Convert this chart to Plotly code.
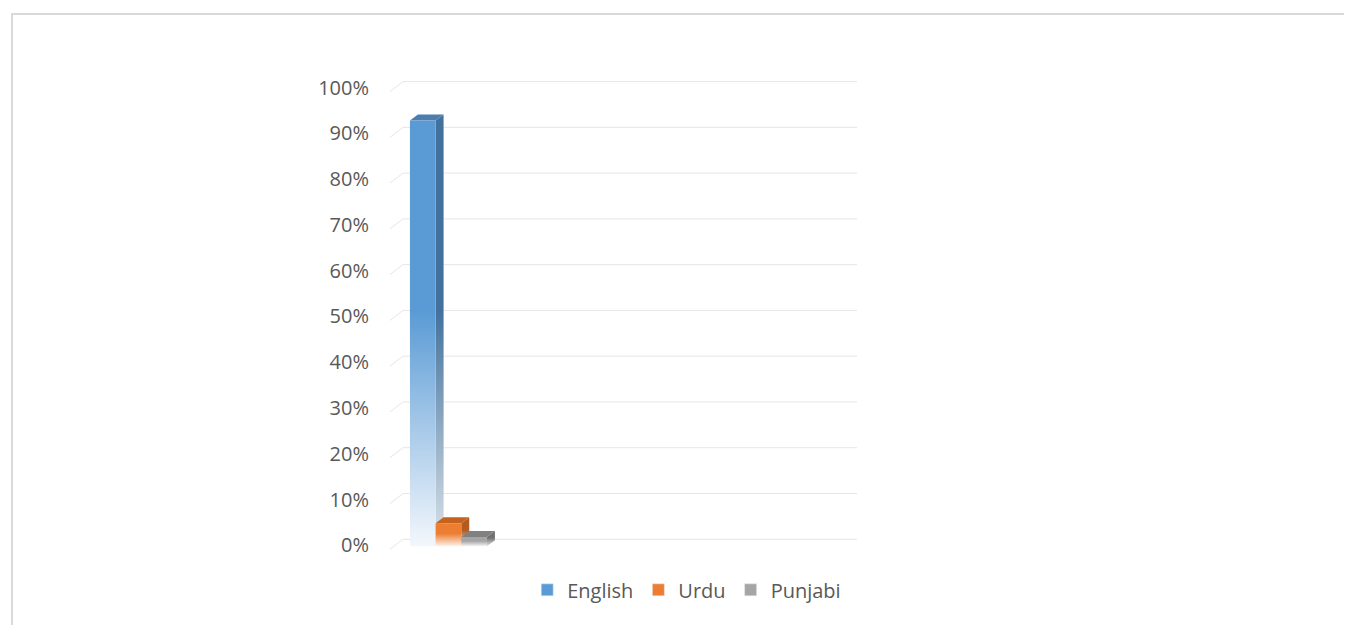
import plotly.graph_objects as go

# data
languages = ["English", "Urdu", "Punjabi"]
shares = [0.93, 0.05, 0.02]
tick_vals = [0, 0.1, 0.2, 0.3, 0.4, 0.5, 0.6, 0.7, 0.8, 0.9, 1.0]
tick_text = ["0%", "10%", "20%", "30%", "40%", "50%", "60%", "70%", "80%", "90%", "100%"]

# colours: front, side, top, faded bottom
front_cols = ["#5B9BD5", "#ED7D31", "#A5A5A5"]
side_cols = ["#41719C", "#B35B20", "#707070"]
top_cols = ["#4C7DAE", "#C4621E", "#808080"]
pale_cols = ["#F3F7FC", "#FDF1E8", "#F4F4F4"]
side_pale = ["#DCE3EA", "#EFE2D8", "#E4E4E4"]

# page geometry (screen px); the page body adds an 8px offset
W, H = 1352, 625
off = 8
ml, mr, mt, mb = 390, 495, 77, 72
x_max = 5.15
wall = 0.143          # depth of side wall
wall_dy = 0.0218
bar_w = 0.283
bar_start = 0.22
dx = 0.088            # bar depth
dy = 0.0131
front_base = -0.015

fig = go.Figure()

# back wall gridlines with the slanted side wall part
for t in tick_vals:
    fig.add_trace(go.Scatter(
        x=[0, wall, x_max], y=[t - wall_dy, t, t], mode="lines",
        line=dict(color="#E6E6E6", width=1), hoverinfo="skip", showlegend=False))

for i, (lang, v) in enumerate(zip(languages, shares)):
    x0 = bar_start + i * bar_w
    x1 = x0 + bar_w
    top = front_base + v
    # side face
    fig.add_trace(go.Scatter(
        x=[x1, x1 + dx, x1 + dx, x1, x1],
        y=[front_base, front_base + dy, top + dy, top, front_base],
        fill="toself", mode="lines", line=dict(width=0),
        fillgradient=dict(type="vertical",
                          colorscale=[[0, side_pale[i]], [0.55, side_cols[i]], [1, side_cols[i]]]),
        hoverinfo="skip", showlegend=False))
    # top face
    fig.add_trace(go.Scatter(
        x=[x0, x1, x1 + dx, x0 + dx, x0],
        y=[top, top, top + dy, top + dy, top],
        fill="toself", mode="lines", line=dict(width=0), fillcolor=top_cols[i],
        hoverinfo="skip", showlegend=False))
    # front face
    fig.add_trace(go.Scatter(
        x=[x0, x1, x1, x0, x0],
        y=[front_base, front_base, top, top, front_base],
        fill="toself", mode="lines", line=dict(width=0),
        fillgradient=dict(type="vertical",
                          colorscale=[[0, pale_cols[i]], [0.55, front_cols[i]], [1, front_cols[i]]]),
        name=lang, hovertemplate=lang + ": " + f"{v:.0%}" + "<extra></extra>",
        showlegend=False))

# legend entries
for i, lang in enumerate(languages):
    fig.add_trace(go.Bar(x=[None], y=[None], name=lang, marker_color=front_cols[i]))

# chart border
pw = W - ml - mr
ph = H - mt - mb
fig.add_shape(type="rect", xref="paper", yref="paper",
              x0=(12 - ml) / pw, x1=(W + 20 - ml) / pw,
              y0=-(mb + 20) / ph, y1=1 + (mt - 14) / ph,
              line=dict(color="#D9D9D9", width=2), layer="below")

fig.update_layout(
    width=W - off, height=H - off,
    margin=dict(l=ml - off, r=mr, t=mt - off, b=mb),
    paper_bgcolor="white", plot_bgcolor="white",
    font=dict(family="Open Sans", size=20, color="#595959"),
    xaxis=dict(range=[0, x_max], visible=False, fixedrange=True),
    yaxis=dict(range=[-0.03, 1.01], tickvals=tick_vals, ticktext=tick_text,
               showgrid=False, zeroline=False, showline=False, ticks="",
               ticklabelstandoff=20, ticklabelshift=6, fixedrange=True),
    showlegend=True,
    legend=dict(orientation="h", xref="container", yref="container",
                x=0.505, y=0.057, xanchor="center", yanchor="middle",
                font=dict(size=20, color="#595959")),
)

fig.write_html("out.html")
